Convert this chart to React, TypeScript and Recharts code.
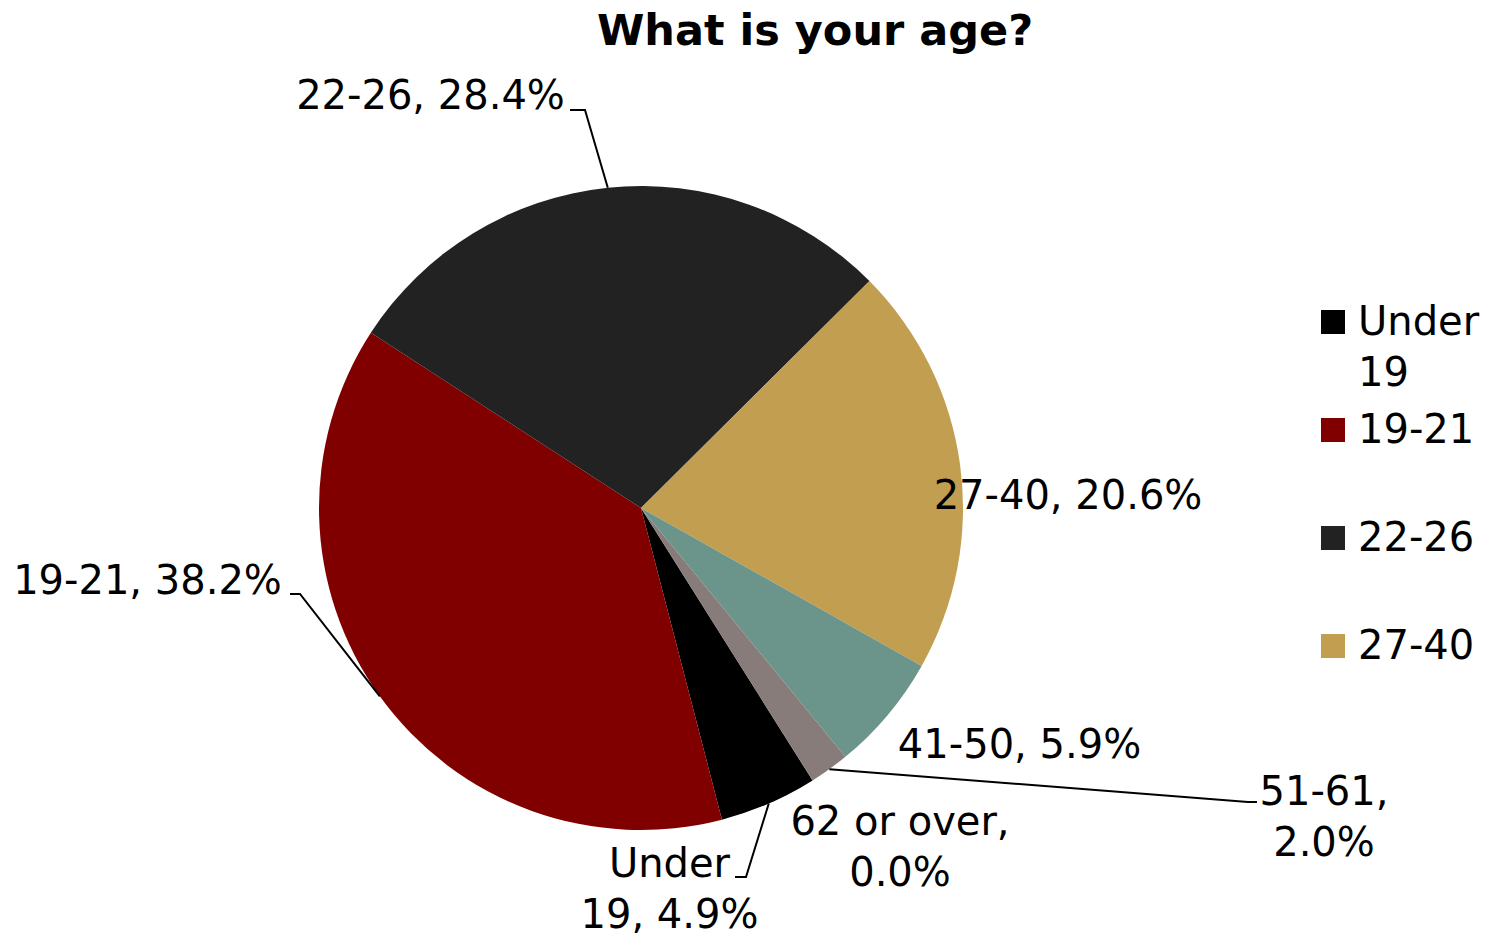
import React from 'react';
import { PieChart, Pie, Cell, Legend } from 'recharts';

const categories = ['Under 19', '19-21', '22-26', '27-40', '41-50', '51-61', '62 or over'];
const percentages = [4.9, 38.2, 28.4, 20.6, 5.9, 2.0, 0.0];
const sliceColors = ['#000000', '#800000', '#222222', '#C19E50', '#6B958A', '#877C79', '#4F6B62'];
const legendShown = 4;
const titleText = 'What is your age?';

const data = categories.map((name, i) => ({ name, value: percentages[i] }));

const FONT = '"DejaVu Sans", sans-serif';
const LABEL_SIZE = 40;
const LINE_H = 51;

// label placement relative to pie centre (Excel manual label positions)
type LabelLayout = { dx: number; dy: number; wrap: 'word' | 'comma' | null; leader?: [number, number][] };
const labelLayout: LabelLayout[] = [
  { dx: 28.5, dy: 355, wrap: 'word', leader: [[105, 369], [94, 369]] },
  { dx: -493.5, dy: 72, wrap: null, leader: [[-341, 86], [-351, 86]] },
  { dx: -210.5, dy: -413, wrap: null, leader: [[-56, -398], [-71, -398]] },
  { dx: 427, dy: -13, wrap: null },
  { dx: 378.5, dy: 236, wrap: null },
  { dx: 683, dy: 283, wrap: 'comma', leader: [[607, 294], [616, 294]] },
  { dx: 259, dy: 313, wrap: 'comma' },
];

function labelLines(name: string, value: number, wrap: LabelLayout['wrap']): string[] {
  const pct = `${value.toFixed(1)}%`;
  if (wrap === 'comma') return [`${name},`, pct];
  const full = `${name}, ${pct}`;
  if (wrap === 'word') {
    const k = full.indexOf(' ');
    return [full.slice(0, k), full.slice(k + 1)];
  }
  return [full];
}

const renderLabel = (props: any) => {
  const { cx, cy, index } = props;
  const lay = labelLayout[index];
  if (!lay) return null;
  const lines = labelLines(categories[index], percentages[index], lay.wrap);
  const x = cx + lay.dx;
  return (
    <text
      key={`lbl-${index}`}
      x={x}
      y={cy + lay.dy}
      textAnchor="middle"
      fontFamily={FONT}
      fontSize={LABEL_SIZE}
      fill="#000"
    >
      {lines.map((ln, j) => (
        <tspan key={j} x={x} y={cy + lay.dy + 14 + j * LINE_H}>
          {ln}
        </tspan>
      ))}
    </text>
  );
};

const renderLabelLine = (props: any) => {
  const { cx, cy, index, points } = props;
  const lay = labelLayout[index];
  if (!lay || !lay.leader || !points || !points[0]) return <g key={`ll-${index}`} />;
  const start = points[0];
  const pts = [[start.x, start.y], ...lay.leader.map(([dx, dy]) => [cx + dx, cy + dy])];
  return (
    <polyline
      key={`ll-${index}`}
      points={pts.map((p) => p.join(',')).join(' ')}
      fill="none"
      stroke="#000"
      strokeWidth={2}
    />
  );
};

const renderLegend = () => {
  const items = categories.slice(0, legendShown);
  return (
    <div style={{ fontFamily: FONT, fontSize: LABEL_SIZE, color: '#000' }}>
      {items.map((name, i) => (
        <div key={name} style={{ height: 108, display: 'flex', alignItems: 'flex-start' }}>
          <div
            style={{
              width: 24,
              height: 24,
              background: sliceColors[i],
              marginTop: (LINE_H - 24) / 2,
              marginRight: 13,
              flex: '0 0 auto',
            }}
          />
          <div style={{ lineHeight: `${LINE_H}px`, width: 128 }}>{name}</div>
        </div>
      ))}
    </div>
  );
};

export default function App() {
  return (
    <div style={{ position: 'absolute', left: 0, top: 0, width: 1487, height: 936, background: '#fff', overflow: 'hidden' }}>
      <div
        style={{
          position: 'absolute',
          left: 415,
          width: 800,
          top: 9,
          textAlign: 'center',
          fontFamily: FONT,
          fontWeight: 'bold',
          fontSize: 43,
          lineHeight: 1,
          color: '#000',
        }}
      >
        {titleText}
      </div>
      <PieChart width={1487} height={936} margin={{ top: 0, right: 0, bottom: 0, left: 0 }}>
        <Pie
          data={data}
          dataKey="value"
          nameKey="name"
          cx={641}
          cy={508}
          outerRadius={322}
          startAngle={-57.8}
          endAngle={-417.8}
          stroke="none"
          isAnimationActive={false}
          label={renderLabel}
          labelLine={renderLabelLine}
        >
          {data.map((d, i) => (
            <Cell key={d.name} fill={sliceColors[i]} stroke="none" />
          ))}
        </Pie>
        <Legend
          layout="vertical"
          align="right"
          verticalAlign="top"
          content={renderLegend}
          wrapperStyle={{ left: 1321, top: 296, width: 166 }}
        />
      </PieChart>
    </div>
  );
}
